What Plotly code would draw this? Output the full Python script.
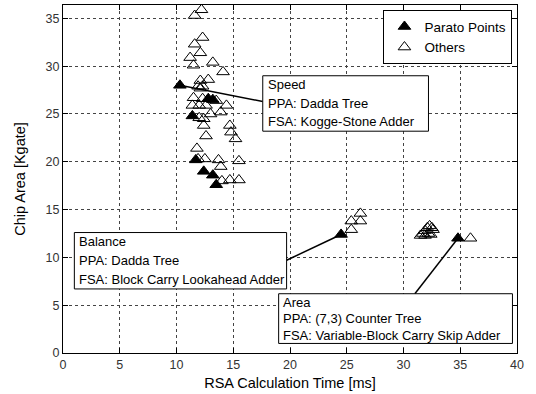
import plotly.graph_objects as go

# ---- data ----
pareto_x = [10.3, 11.4, 11.7, 12.4, 13.2, 13.5, 12.8, 13.2, 24.5, 34.8]
pareto_y = [28.0, 24.8, 20.2, 19.0, 18.6, 17.6, 26.6, 26.5, 12.4, 12.0]

others_x = [12.2, 11.6, 12.3, 11.6, 12.1, 11.2, 11.5, 13.2, 14.1,
            12.1, 12.8, 11.9, 12.1, 12.3,
            11.5, 12.3, 13.5,
            11.4, 12.0, 12.6, 14.4,
            13.9, 13.0, 12.0, 12.4,
            12.4, 14.7, 14.8, 12.6, 15.2,
            11.8, 11.9, 12.5, 13.7, 13.9, 15.5,
            14.0, 14.7, 15.5,
            25.4, 25.4, 26.2, 26.2,
            31.5, 31.7, 31.9, 32.1, 32.3, 32.5, 32.2, 31.9, 32.6, 32.4,
            35.9]
others_y = [35.9, 35.3, 33.0, 32.3, 31.4, 30.9, 30.1, 30.4, 29.4,
            28.5, 28.6, 27.9, 27.7, 27.9,
            26.7, 26.6, 26.4,
            25.9, 25.9, 25.9, 25.9,
            25.2, 25.0, 24.6, 24.5,
            23.8, 23.8, 23.1, 22.7, 22.4,
            21.4, 20.3, 20.3, 20.2, 19.5, 20.1,
            18.0, 18.1, 18.1,
            12.9, 13.8, 13.8, 14.6,
            12.3, 12.5, 12.8, 13.1, 13.3, 13.1, 12.5, 12.3, 12.9, 12.4,
            12.0]

legend_names = ["Parato Points", "Others"]
box_texts = [
    ["Speed", "PPA: Dadda Tree", "FSA: Kogge-Stone Adder"],
    ["Balance", "PPA: Dadda Tree", "FSA: Block Carry Lookahead Adder"],
    ["Area", "PPA: (7,3) Counter Tree", "FSA: Variable-Block Carry Skip Adder"],
]
x_ticks = [0, 5, 10, 15, 20, 25, 30, 35, 40]
y_ticks = [0, 5, 10, 15, 20, 25, 30, 35]

FONT = "Liberation Sans, Arial, sans-serif"

fig = go.Figure()
fig.add_trace(go.Scatter(x=pareto_x, y=pareto_y, mode="markers", name=legend_names[0],
                         marker=dict(symbol="triangle-up", size=11, color="black",
                                     line=dict(color="black", width=1))))
fig.add_trace(go.Scatter(x=others_x, y=others_y, mode="markers", name=legend_names[1],
                         marker=dict(symbol="triangle-up-open", size=11, color="black",
                                     line=dict(width=1))))

# boxes: (x0, x1, y0, y1), and connector line (from point to box)
boxes = [(17.6, 32.2, 23.2, 29.0), (1.0, 19.7, 6.7, 12.6), (19.0, 39.6, 1.0, 6.2)]
connectors = [((pareto_x[0], pareto_y[0]), (17.6, 26.3)),
              ((pareto_x[8], pareto_y[8]), (19.7, 9.7)),
              ((pareto_x[9], pareto_y[9]), (31.0, 6.2))]

shapes = []
for (p, q) in connectors:
    shapes.append(dict(type="line", xref="x", yref="y", x0=p[0], y0=p[1], x1=q[0], y1=q[1],
                       line=dict(color="black", width=1.5)))
annotations = []
for (x0, x1, y0, y1), lines in zip(boxes, box_texts):
    shapes.append(dict(type="rect", xref="x", yref="y", x0=x0, x1=x1, y0=y0, y1=y1,
                       fillcolor="white", line=dict(color="black", width=1)))
    h = (y1 - y0) / 3.0
    for i, t in enumerate(lines):
        annotations.append(dict(x=x0 + 0.25, y=y1 - h * (i + 0.5), xref="x", yref="y",
                                text=t, showarrow=False, xanchor="left", yanchor="middle",
                                font=dict(family=FONT, size=13, color="black")))

fig.update_layout(
    width=536, height=394,
    margin=dict(l=63, r=19, t=5, b=41),
    paper_bgcolor="white", plot_bgcolor="white",
    font=dict(family=FONT, size=12.5, color="#333"),
    shapes=shapes, annotations=annotations,
    legend=dict(x=0.99, y=0.985, xanchor="right", yanchor="top",
                bordercolor="black", borderwidth=1, bgcolor="white",
                font=dict(family=FONT, size=13.5, color="black"),
                itemwidth=30, tracegroupgap=0),
    showlegend=True,
)
fig.update_xaxes(range=[0, 40], tickvals=x_ticks, showgrid=True, gridcolor="#444",
                 griddash="dot", gridwidth=1, zeroline=False, showline=True,
                 linecolor="black", linewidth=1, mirror="ticks", ticks="inside",
                 ticklen=5, tickcolor="black",
                 title=dict(text="RSA Calculation Time [ms]", font=dict(family=FONT, size=14.5, color="black"), standoff=6))
fig.update_yaxes(range=[0, 36.4], tickvals=y_ticks, showgrid=True, gridcolor="#444",
                 griddash="dot", gridwidth=1, zeroline=False, showline=True,
                 linecolor="black", linewidth=1, mirror="ticks", ticks="inside",
                 ticklen=5, tickcolor="black",
                 title=dict(text="Chip Area [Kgate]", font=dict(family=FONT, size=14.5, color="black"), standoff=16))

fig.write_html("out.html")
